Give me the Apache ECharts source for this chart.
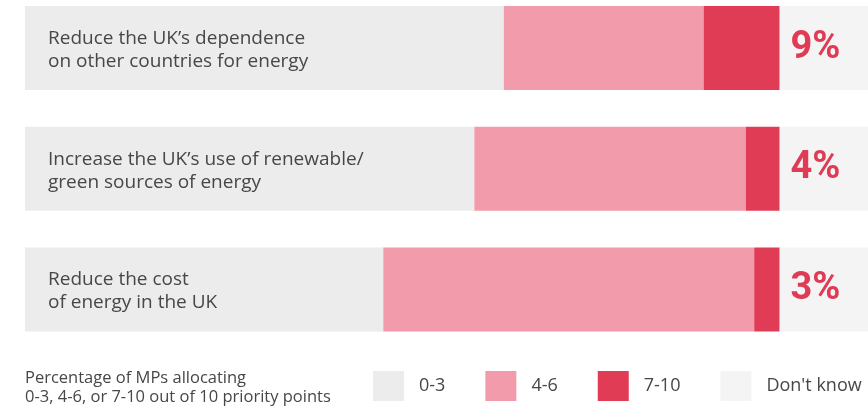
<!DOCTYPE html>
<html>
<head>
<meta charset="utf-8">
<script src="https://cdn.jsdelivr.net/npm/echarts@6/dist/echarts.min.js"></script>
<style>
  html, body { margin: 0; padding: 0; background: #ffffff; }
  #chart { width: 868px; height: 407px; }
</style>
</head>
<body>
<div id="chart"></div>
<script>
// Energy priorities: share of MPs by priority points allocated
const categories = [
  'Reduce the UK\u2019s dependence\non other countries for energy',
  'Increase the UK\u2019s use of renewable/\ngreen sources of energy',
  'Reduce the cost\nof energy in the UK'
];
const seriesNames = ['0-3', '4-6', '7-10', "Don't know"];
const low = [56.8, 53.3, 42.5];
const mid = [23.7, 32.2, 44.0];
const high = [9, 4, 3];
const dontKnow = [10.5, 10.5, 10.5];
const legendNote = 'Percentage of MPs allocating\n0-3, 4-6, or 7-10 out of 10 priority points';

const colors = ['#ececec', '#f29cab', '#e03c55', '#f4f4f4'];
const textColor = '#474747';
const font = 'Open Sans';

const chart = echarts.init(document.getElementById('chart'), null, { renderer: 'canvas' });

function stackSeries(name, data, color, extra) {
  return Object.assign({
    name: name,
    type: 'bar',
    stack: 'total',
    data: data,
    barWidth: 84,
    itemStyle: { color: color },
    emphasis: { disabled: true },
    animation: false
  }, extra || {});
}

chart.setOption({
  animation: false,
  textStyle: { fontFamily: font },
  // category centres sit on the grid's top and bottom edges
  grid: { left: 25, right: 0, top: 48, height: 241.5, containLabel: false },
  xAxis: {
    type: 'value', min: 0, max: 100,
    show: false
  },
  yAxis: {
    type: 'category', data: categories, inverse: true,
    boundaryGap: false,
    show: false
  },
  legend: {
    left: 373, top: 371, padding: 0, width: 600,
    itemWidth: 31, itemHeight: 30, itemGap: 40,
    icon: 'rect',
    data: seriesNames,
    selectedMode: false,
    textStyle: { color: textColor, fontSize: 18, fontFamily: font, padding: [0, 0, 0, 10] }
  },
  graphic: [{
    type: 'text', left: 25, top: 369,
    style: { text: legendNote, fill: textColor, fontSize: 16.5, lineHeight: 19, fontFamily: font }
  }],
  series: [
    stackSeries(seriesNames[0], low, colors[0], {
      label: {
        show: true, position: 'insideLeft', distance: 23, offset: [0, 2],
        formatter: p => categories[p.dataIndex],
        color: textColor, fontSize: 19, lineHeight: 23, fontFamily: font
      }
    }),
    stackSeries(seriesNames[1], mid, colors[1]),
    stackSeries(seriesNames[2], high, colors[2], {
      z: 5,
      label: {
        show: true, position: 'right', distance: 11,
        formatter: '{c}%',
        color: '#df3b55', fontSize: 38, fontWeight: 'bold', fontFamily: 'Roboto'
      }
    }),
    stackSeries(seriesNames[3], dontKnow, colors[3])
  ]
});
</script>
</body>
</html>
